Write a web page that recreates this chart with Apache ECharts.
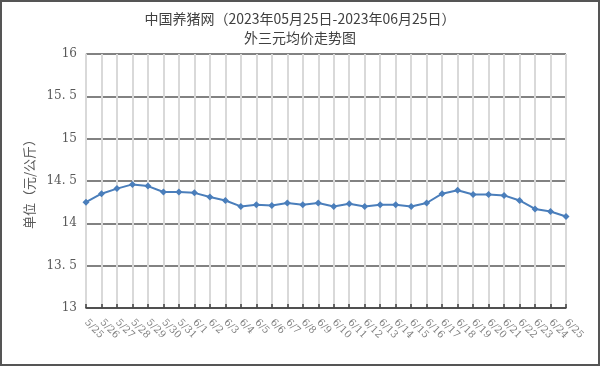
<!DOCTYPE html>
<html><head><meta charset="utf-8">
<script src="https://cdn.jsdelivr.net/npm/echarts@6/dist/echarts.min.js"></script>
<style>html,body{margin:0;padding:0;background:#fff}#c{width:600px;height:366px}</style>
</head><body><div id="c"></div>
<script>
const titleLine1 = '中国养猪网（2023年05月25日-2023年06月25日）';
const titleLine2 = '外三元均价走势图';
const yAxisName = '单位（元/公斤）';
const categories = ['5/25','5/26','5/27','5/28','5/29','5/30','5/31','6/1','6/2','6/3','6/4','6/5','6/6','6/7','6/8','6/9','6/10','6/11','6/12','6/13','6/14','6/15','6/16','6/17','6/18','6/19','6/20','6/21','6/22','6/23','6/24','6/25'];
const prices = [14.25,14.35,14.41,14.46,14.44,14.37,14.37,14.36,14.31,14.27,14.20,14.22,14.21,14.24,14.22,14.24,14.20,14.23,14.20,14.22,14.22,14.20,14.24,14.35,14.39,14.34,14.34,14.33,14.27,14.17,14.14,14.08];
const yMin = 13, yMax = 16, yStep = 0.5;

const chart = echarts.init(document.getElementById('c'));
const font = '"Noto Sans CJK SC", "DejaVu Serif", serif';
chart.setOption({
  animation: false,
  title: [
    {text: titleLine1, left: 'center', top: 7, textStyle: {fontFamily: font, fontSize: 14, fontWeight: 'normal', color: '#404040'}},
    {text: titleLine2, left: 'center', top: 26, textStyle: {fontFamily: font, fontSize: 14, fontWeight: 'normal', color: '#404040'}}
  ],
  graphic: [{type: 'rect', shape: {x: 1, y: 1, width: 598, height: 364}, style: {fill: 'none', stroke: '#555', lineWidth: 2}, silent: true}],
  grid: {left: 86, right: 34, top: 54, bottom: 58},
  xAxis: {
    type: 'category', data: categories, boundaryGap: false,
    axisLine: {lineStyle: {color: '#404040', width: 1.5}},
    axisTick: {inside: true, length: 4, lineStyle: {color: '#404040', width: 1.5}},
    axisLabel: {rotate: -45, color: '#808080', fontSize: 10, fontFamily: '"DejaVu Serif", serif', margin: 13, interval: 0},
    splitLine: {show: true, lineStyle: {color: '#d9d9d9', width: 2}}
  },
  yAxis: {
    type: 'value', min: yMin, max: yMax, interval: yStep,
    name: yAxisName, nameLocation: 'middle', nameGap: 46, nameRotate: 90,
    nameTextStyle: {fontFamily: font, fontSize: 13, color: '#595959'},
    axisLine: {show: true, lineStyle: {color: '#d9d9d9', width: 1.5}},
    axisTick: {show: false},
    axisLabel: {color: '#595959', fontSize: 12, fontFamily: '"DejaVu Serif", serif', margin: 9,
      formatter: v => String(v).replace('.', '. ')},
    splitLine: {show: true, lineStyle: {color: '#595959', width: 1.5}}
  },
  series: [{
    type: 'line', data: prices, symbol: 'diamond', symbolSize: 7,
    lineStyle: {color: '#4a7ebb', width: 2},
    itemStyle: {color: '#4a7ebb'}
  }]
});
</script></body></html>
